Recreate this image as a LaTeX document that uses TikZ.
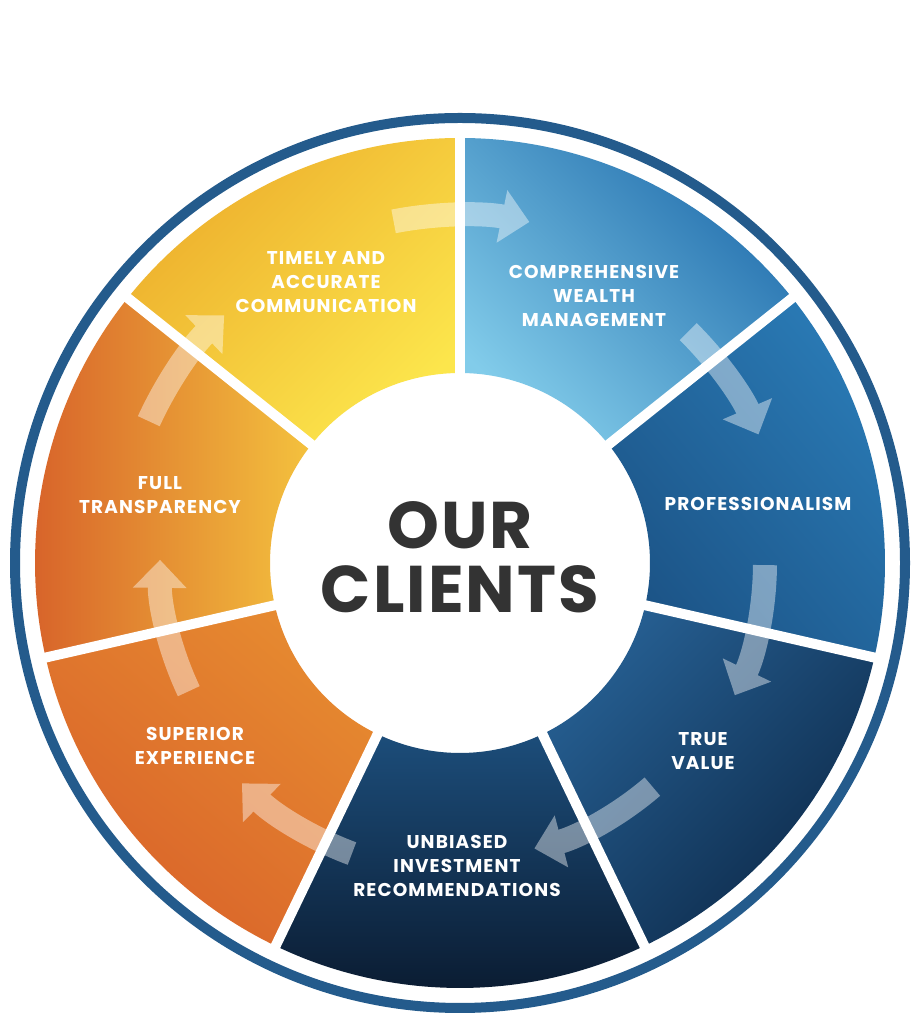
\documentclass[tikz,border=0pt]{standalone}
\usepackage{fontspec}
\setmainfont{Poppins}
\usetikzlibrary{arrows.meta,calc}
\definecolor{ringblue}{HTML}{245B8C}
\definecolor{yelA}{HTML}{EDAE2C}
\definecolor{yelB}{HTML}{FCE64C}
\definecolor{cwA}{HTML}{2470AE}
\definecolor{cwB}{HTML}{82CCEA}
\definecolor{prA}{HTML}{1C5487}
\definecolor{prB}{HTML}{2A7BB6}
\definecolor{tvA}{HTML}{265F92}
\definecolor{tvB}{HTML}{0D2A4A}
\definecolor{ubA}{HTML}{1C4D7A}
\definecolor{ubB}{HTML}{0A1A2F}
\definecolor{spA}{HTML}{E68A30}
\definecolor{spB}{HTML}{D9622A}
\definecolor{ftA}{HTML}{D65E29}
\definecolor{ftB}{HTML}{F4C23E}
\definecolor{centertext}{HTML}{333333}
\tikzset{
  annsec/.style 2 args={insert path={(#1:190) -- (#1:425) arc[start angle=#1,end angle=#2,radius=425] -- (#2:190) arc[start angle=#2,end angle=#1,radius=190] -- cycle}},
  divider/.style={white,line width=10pt},
  flow/.style={white,line width=24pt,-{Triangle[width=52pt,length=28pt]}},
  flowgroup/.style={transparency group,opacity=0.42},
  seglabel/.style={text=white,align=center,font=\fontsize{18.5}{24}\selectfont\bfseries\addfontfeatures{LetterSpace=6}},
}
\begin{document}
\begin{tikzpicture}[x=1pt,y=1pt]
\useasboundingbox (0,0) rectangle (917,1024);
\fill[white] (0,0) rectangle (917,1024);
\coordinate (C) at (460,461);
\draw[ringblue,line width=10pt] (C) circle[radius=445];
\begin{scope}[shift={(C)}]
  % segments
  \shade[top color=yelA,bottom color=yelB,shading angle=45,annsec={90}{141.4286}];
  \shade[top color=cwA,bottom color=cwB,shading angle=-45,annsec={38.5714}{90}];
  \shade[top color=prB,bottom color=prA,shading angle=-50,annsec={-12.8571}{38.5714}];
  \shade[top color=tvA,bottom color=tvB,shading angle=45,annsec={-64.2857}{-12.8571}];
  \shade[top color=ubA,bottom color=ubB,annsec={-115.7143}{-64.2857}];
  \shade[top color=spA,bottom color=spB,shading angle=-40,annsec={-167.1429}{-115.7143}];
  \shade[left color=ftA,right color=ftB,annsec={141.4286}{192.8571}];
  % dividers
  \foreach \a in {90,38.5714,-12.8571,-64.2857,-115.7143,-167.1429,141.4286}
    \draw[divider] (\a:175) -- (\a:432);
  % arrows
  \coordinate (s1) at (101:348);
  \coordinate (s2) at (45.4:325);
  \coordinate (s3) at (-0.4:305);
  \coordinate (s4) at (-49.3:295);
  \coordinate (s5) at (-110.4:310);
  \coordinate (s6) at (-154.7:300);
  \coordinate (s7) at (155.5:342);
  \begin{scope}[flowgroup]\draw[flow] (s1) arc[start angle=101,end angle=78.5,radius=348];\end{scope}
  \begin{scope}[flowgroup]\draw[flow] (s2) arc[start angle=45.4,end angle=23.3,radius=325];\end{scope}
  \begin{scope}[flowgroup]\draw[flow] (s3) arc[start angle=-0.4,end angle=-25.7,radius=305];\end{scope}
  \begin{scope}[flowgroup]\draw[flow] (s4) arc[start angle=-49.3,end angle=-75.4,radius=295];\end{scope}
  \begin{scope}[flowgroup]\draw[flow] (s5) arc[start angle=-110.4,end angle=-134.7,radius=310];\end{scope}
  \begin{scope}[flowgroup]\draw[flow] (s6) arc[start angle=-154.7,end angle=-180.6,radius=300];\end{scope}
  \begin{scope}[flowgroup]\draw[flow] (s7) arc[start angle=155.5,end angle=133.6,radius=342];\end{scope}
\end{scope}
% labels
\node[seglabel] (timely) at (326,742) {TIMELY AND\\ACCURATE\\COMMUNICATION};
\node[seglabel] (comp) at (594,728) {COMPREHENSIVE\\WEALTH\\MANAGEMENT};
\node[seglabel] (prof) at (758,520) {PROFESSIONALISM};
\node[seglabel] (truev) at (703,273) {TRUE\\VALUE};
\node[seglabel] (unb) at (457,158) {UNBIASED\\INVESTMENT\\RECOMMENDATIONS};
\node[seglabel] (sup) at (195,278) {SUPERIOR\\EXPERIENCE};
\node[seglabel] (full) at (160,529) {FULL\\TRANSPARENCY};
\node[text=centertext,align=center,font=\fontsize{66}{64}\selectfont\bfseries\addfontfeatures{LetterSpace=3}] (clients) at (460,467) {OUR\\CLIENTS};
\end{tikzpicture}
\end{document}
